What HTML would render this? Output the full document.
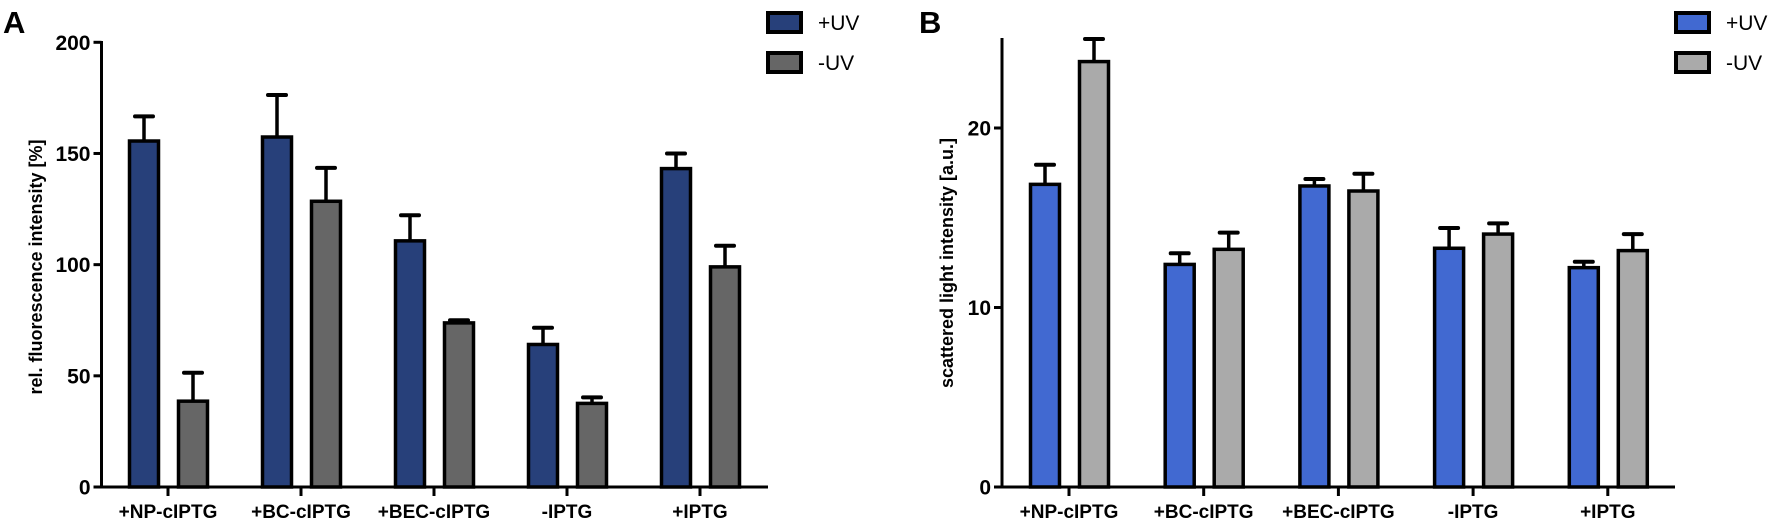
<!DOCTYPE html>
<html><head><meta charset="utf-8"><style>
html,body{margin:0;padding:0;background:#fff;}
svg{display:block;}
text{font-family:"Liberation Sans",sans-serif;}
</style></head><body>
<svg width="1772" height="521" viewBox="0 0 1772 521" id="fig"></svg>
<script>
const categories = ["+NP-cIPTG","+BC-cIPTG","+BEC-cIPTG","-IPTG","+IPTG"];
const aPlusUV = [155.6,157.4,110.7,64.1,143.2];
const aPlusUVErr = [166.7,176.3,122.2,71.6,150];
const aMinusUV = [38.6,128.5,73.8,37.6,99];
const aMinusUVErr = [51.4,143.5,75,40.3,108.5];
const aTicks = [0,50,100,150,200];
const bPlusUV = [16.86,12.4,16.77,13.3,12.22];
const bPlusUVErr = [17.95,13.02,17.16,14.43,12.55];
const bMinusUV = [23.7,13.24,16.49,14.09,13.17];
const bMinusUVErr = [24.96,14.17,17.45,14.69,14.09];
const bTicks = [0,10,20];

const NS="http://www.w3.org/2000/svg";
const svg=document.getElementById('fig');
function mk(tag,attrs,parent){const e=document.createElementNS(NS,tag);for(const k in attrs)e.setAttribute(k,attrs[k]);(parent||svg).appendChild(e);return e;}

function panel(cfg){
  const g=mk('g',{});
  
  
  const y=v=>cfg.y0-(v-0)*(cfg.y0-cfg.yTop)/(cfg.vTop);
  const x=i=>cfg.x0Tick+i*cfg.step;
  // panel letter
  const L=mk('text',{x:cfg.letterX,y:33,'font-size':31,'font-weight':'bold',fill:'#000'},g);
  L.textContent=cfg.letter;
  
  
  // bars
  const series=[[cfg.s1,cfg.s1e,cfg.c1,-24,'uv-plus'],[cfg.s2,cfg.s2e,cfg.c2,25,'uv-minus']];
  series.forEach(([vals,errs,col,off,nm])=>{
    vals.forEach((v,i)=>{
      const cx=x(i)+off;
      const e=errs[i];
      const ln=mk('line',{x1:cx,x2:cx,y1:y(v),y2:y(e),stroke:'#000','stroke-width':3.5},g);
      
      
      const cap=mk('line',{x1:cx-9,x2:cx+9,y1:y(e),y2:y(e),stroke:'#000','stroke-width':4,'stroke-linecap':'round'},g);
      
      
      const r=mk('rect',{x:cx-14.5,y:y(v),width:29,height:cfg.y0-y(v),fill:col,stroke:'#000','stroke-width':3.5},g);
      
      
    });
  });
  // axes
  const ya=mk('line',{x1:cfg.ax,x2:cfg.ax,y1:cfg.axTop,y2:cfg.y0+1,stroke:'#000','stroke-width':3},g);
  
  
  const xa=mk('line',{x1:cfg.ax-1,x2:cfg.axRight,y1:cfg.y0,y2:cfg.y0,stroke:'#000','stroke-width':3},g);
  
  
  cfg.ticks.forEach(t=>{
    mk('line',{x1:cfg.ax-8,x2:cfg.ax,y1:y(t),y2:y(t),stroke:'#000','stroke-width':3},g);
    const tl=mk('text',{x:cfg.ax-11,y:y(t)+7.5,'font-size':21,'font-weight':'bold','text-anchor':'end',fill:'#000'},g);
    tl.textContent=t;
    
    
  });
  categories.forEach((c,i)=>{
    mk('line',{x1:x(i),x2:x(i),y1:cfg.y0,y2:cfg.y0+9,stroke:'#000','stroke-width':3},g);
    const tl=mk('text',{x:x(i),y:518,'font-size':19,'font-weight':'bold','text-anchor':'middle',fill:'#000'},g);
    tl.textContent=c;
    
    
  });
  const yt=mk('text',{x:0,y:0,'font-size':18,'font-weight':'bold','text-anchor':'middle',fill:'#000',transform:`translate(${cfg.titleX},${cfg.titleY}) rotate(-90)`},g);
  yt.textContent=cfg.title;
  
  
  // legend
  [[cfg.c1,'+UV',13],[cfg.c2,'-UV',53]].forEach(([col,lab,ly])=>{
    const r=mk('rect',{x:cfg.legX,y:ly,width:33,height:19,fill:col,stroke:'#000','stroke-width':4},g);
    
    
    const t=mk('text',{x:cfg.legX+50,y:ly+17,'font-size':21,fill:'#000'},g);
    t.textContent=lab;
    
    
  });
}

panel({name:'panel-a',letter:'A',letterX:3,y0:487,yTop:42.3,vTop:200,x0Tick:168,step:133,ax:101.5,axTop:41,axRight:768,
  ticks:aTicks,s1:aPlusUV,s1e:aPlusUVErr,s2:aMinusUV,s2e:aMinusUVErr,c1:'#27407a',c2:'#666666',
  title:'rel. fluorescence intensity [%]',titleX:42,titleY:267,legX:768});
panel({name:'panel-b',letter:'B',letterX:919,y0:487,yTop:128,vTop:20,x0Tick:1069,step:134.7,ax:1002,axTop:38,axRight:1675,
  ticks:bTicks,s1:bPlusUV,s1e:bPlusUVErr,s2:bMinusUV,s2e:bMinusUVErr,c1:'#4169d1',c2:'#aaaaaa',
  title:'scattered light intensity [a.u.]',titleX:953,titleY:263,legX:1676});
</script>
</body></html>
